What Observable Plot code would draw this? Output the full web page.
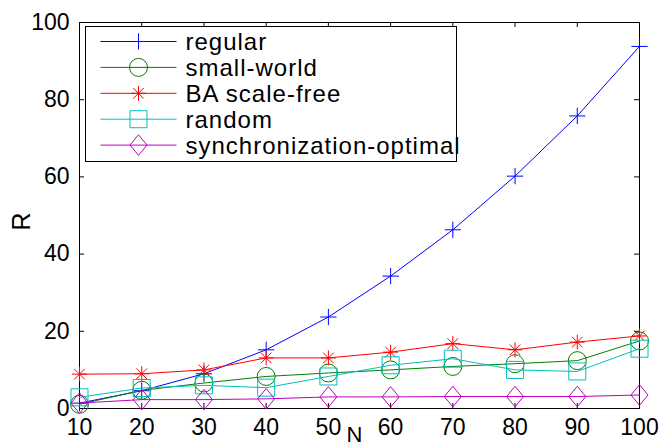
<!DOCTYPE html>
<html>
<head>
<meta charset="utf-8">
<script src="https://cdn.jsdelivr.net/npm/d3@7"></script>
<script src="https://cdn.jsdelivr.net/npm/@observablehq/plot@0.6"></script>
<style>
  html, body { margin: 0; padding: 0; background: #fff; }
  #chart { width: 661px; height: 446px; overflow: hidden; }
</style>
</head>
<body>
<div id="chart"></div>
<script>
// ---- data ----
const N = [10, 20, 30, 40, 50, 60, 70, 80, 90, 100];
const regular     = [1.4, 4.6, 9.0, 15.2, 23.7, 34.3, 46.3, 60.2, 75.8, 93.8];
const smallWorld  = [1.1, 4.7, 6.6, 8.3, 9.2, 10.0, 10.9, 11.6, 12.4, 17.5];
const baScaleFree = [8.9, 9.0, 10.0, 13.1, 13.1, 14.6, 16.8, 15.2, 17.2, 18.8];
const randomNet   = [2.9, 5.3, 6.0, 5.4, 8.3, 11.2, 12.9, 10.0, 9.6, 15.5];
const syncOptimal = [1.4, 2.3, 2.3, 2.5, 3.0, 3.0, 3.1, 3.1, 3.1, 3.5];

const seriesNames = ["regular", "small-world", "BA scale-free", "random", "synchronization-optimal"];
const seriesValues = [regular, smallWorld, baScaleFree, randomNet, syncOptimal];
const seriesColors = ["#0000ff", "#008000", "#ff0000", "#00bfbf", "#bf00bf"];

const xTicks = [10, 20, 30, 40, 50, 60, 70, 80, 90, 100];
const yTicks = [0, 20, 40, 60, 80, 100];
const xLabel = "N";
const yLabel = "R";

// ---- custom MATLAB-like marker shapes ----
const matlabAsterisk = {
  draw(ctx, size) {
    const r = Math.sqrt(size / Math.PI) * 1.5;
    const d = r * Math.SQRT1_2;
    ctx.moveTo(-r, 0); ctx.lineTo(r, 0);
    ctx.moveTo(0, -r); ctx.lineTo(0, r);
    ctx.moveTo(-d, -d); ctx.lineTo(d, d);
    ctx.moveTo(-d, d); ctx.lineTo(d, -d);
  }
};
const matlabDiamond = {
  draw(ctx, size) {
    const r = Math.sqrt(size / Math.PI);
    const hw = 0.85 * r, hh = 1.03 * r;
    ctx.moveTo(0, -hh); ctx.lineTo(hw, 0); ctx.lineTo(0, hh); ctx.lineTo(-hw, 0); ctx.closePath();
  }
};
const legendLine = {
  draw(ctx, size) {
    ctx.moveTo(-38, 0); ctx.lineTo(38, 0);
  }
};
const seriesSymbols = ["plus", "circle", matlabAsterisk, "square", matlabDiamond];
const seriesR = [5.3, 9, 5, 9.6, 10];

// long table built from the arrays
const table = [];
seriesNames.forEach((name, i) => {
  N.forEach((n, j) => table.push({series: name, N: n, R: seriesValues[i][j]}));
});

const width = 661, height = 446;
const mL = 79, mR = 22, mT = 22, mB = 38;
const pw = width - mL - mR, ph = height - mT - mB;
const tick = 5;
const font = "'Liberation Sans', Arial, Helvetica, sans-serif";

const marks = [];
// axes box + inward ticks
marks.push(Plot.frame({stroke: "black", strokeWidth: 1}));
marks.push(Plot.tickX(xTicks, {x: d => d, stroke: "black", insetTop: ph - tick}));
marks.push(Plot.tickX(xTicks, {x: d => d, stroke: "black", insetBottom: ph - tick}));
marks.push(Plot.tickY(yTicks, {y: d => d, stroke: "black", insetRight: pw - tick}));
marks.push(Plot.tickY(yTicks, {y: d => d, stroke: "black", insetLeft: pw - tick}));
marks.push(Plot.axisX({ticks: xTicks, tickSize: 0, tickPadding: 10, fontSize: 23, label: null, fill: "black"}));
marks.push(Plot.axisY({ticks: yTicks, tickSize: 0, tickPadding: 10, fontSize: 23, label: null, fill: "black"}));

// data series
seriesNames.forEach((name, i) => {
  const rows = table.filter(d => d.series === name);
  marks.push(Plot.line(rows, {x: "N", y: "R", stroke: seriesColors[i], strokeWidth: 1}));
  marks.push(Plot.dot(rows, {x: "N", y: "R", symbol: () => seriesSymbols[i], r: seriesR[i],
    stroke: seriesColors[i], fill: "none", strokeWidth: 1}));
});

// axis titles
marks.push(Plot.text([yLabel], {text: d => d, frameAnchor: "left", rotate: -90, dx: -58, dy: 6,
  fontSize: 25, fill: "black", lineAnchor: "middle", textAnchor: "middle"}));
marks.push(Plot.text([xLabel], {text: d => d, frameAnchor: "bottom", dx: -5, dy: 26,
  fontSize: 22, fill: "black", lineAnchor: "middle", textAnchor: "middle"}));

// legend inside the axes (top-left)
const legLeft = 6, legTop = 4, legRight = 456, legBottom = 161;
marks.push(Plot.frame({fill: "white", stroke: "black", strokeWidth: 1,
  insetLeft: legLeft, insetTop: legTop, insetRight: (mL + pw) - legRight, insetBottom: (mT + ph) - legBottom}));
seriesNames.forEach((name, i) => {
  const rowDy = 19 + i * 25.9;
  marks.push(Plot.dot([name], {frameAnchor: "top-left", dx: 59, dy: rowDy, symbol: () => legendLine,
    r: 5, stroke: seriesColors[i], fill: "none", strokeWidth: 1}));
  marks.push(Plot.dot([name], {frameAnchor: "top-left", dx: 59, dy: rowDy, symbol: () => seriesSymbols[i],
    r: seriesR[i], stroke: seriesColors[i], fill: "none", strokeWidth: 1}));
  marks.push(Plot.text([name], {text: d => d, frameAnchor: "top-left", dx: 106, dy: rowDy + 1,
    textAnchor: "start", lineAnchor: "middle", fontSize: 24, fill: "black",
    style: "letter-spacing: 1px"}));
});

const chart = Plot.plot({
  width, height,
  marginLeft: mL, marginRight: mR, marginTop: mT, marginBottom: mB,
  x: {domain: [10, 100]},
  y: {domain: [0, 100]},
  symbol: {type: "identity"},
  style: {fontFamily: font, background: "white", color: "black", overflow: "hidden"},
  marks
});
// legend text spacing (style applied to the text marks)
chart.querySelectorAll("text").forEach(t => {
  if (seriesNames.includes(t.textContent)) t.setAttribute("letter-spacing", "1");
});
document.getElementById("chart").appendChild(chart);
</script>
</body>
</html>
